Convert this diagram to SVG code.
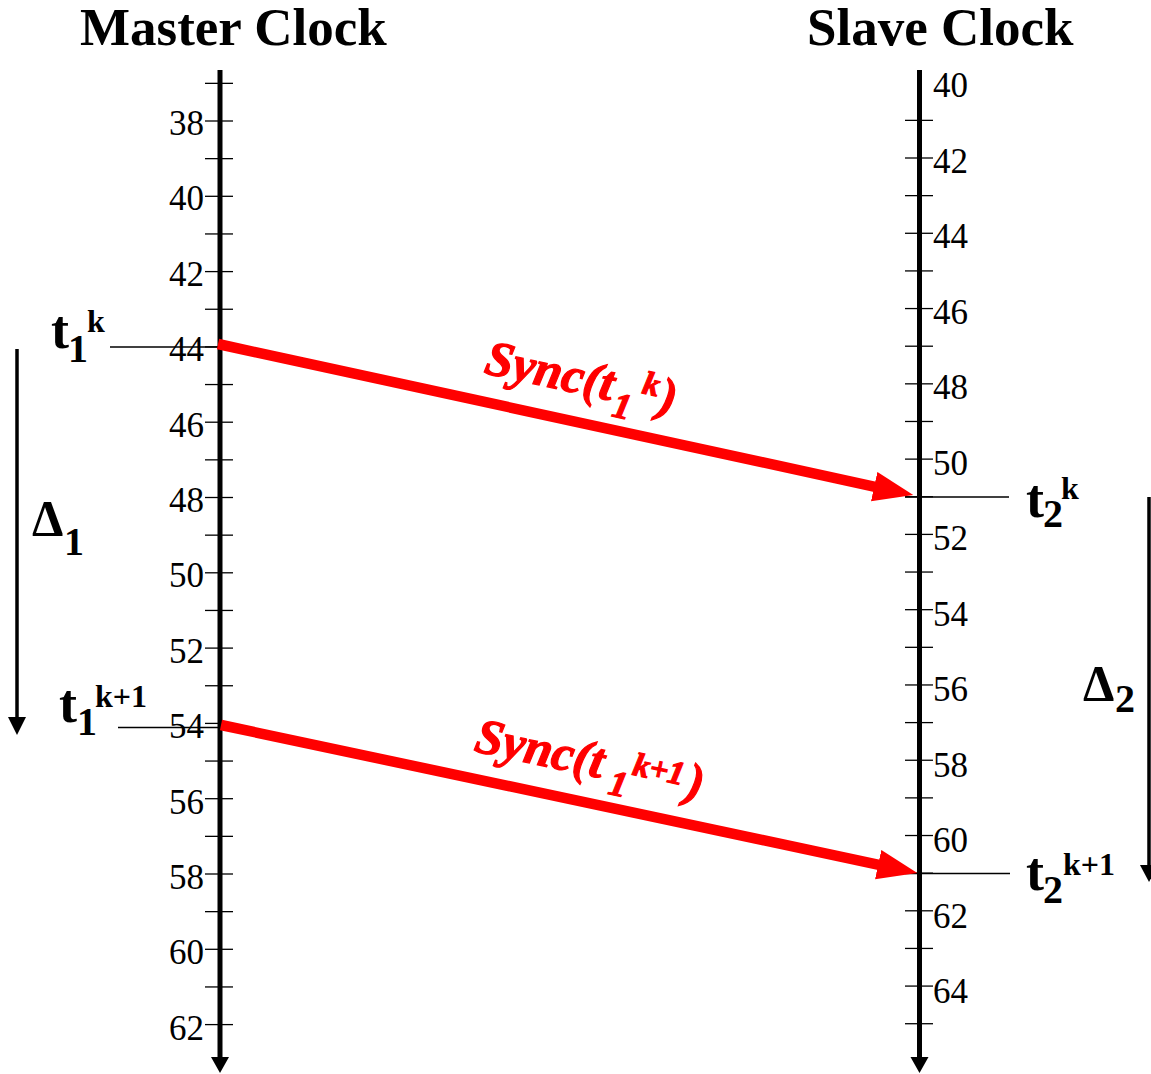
<svg xmlns="http://www.w3.org/2000/svg" width="1151" height="1074" viewBox="0 0 1151 1074">
<style>
.title{font-family:"Liberation Serif","Times New Roman",serif;font-weight:bold;font-size:53px;fill:#000}
.num{font-family:"Liberation Serif","Times New Roman",serif;font-size:35px;fill:#000}
.lbl{font-family:"Liberation Serif","Times New Roman",serif;font-weight:bold;fill:#000}
.sync{font-family:"Liberation Serif","Times New Roman",serif;font-weight:700;font-style:italic;fill:#ff0000;stroke:#ff0000;stroke-width:1.2}
.axis{stroke:#000;stroke-width:5;fill:none}
.tick{stroke:#000;stroke-width:1.3}
.guide{stroke:#000;stroke-width:1.3}
.msg{stroke:#ff0000;stroke-width:10.5;fill:none}
.delta{stroke:#000;stroke-width:3.5;fill:none}
</style>
<defs>
<marker id="redhead" markerUnits="userSpaceOnUse" markerWidth="44" markerHeight="34" refX="8" refY="15" orient="auto">
<path d="M0,0 L40,15 L0,30 Z" fill="#ff0000"/>
</marker>
</defs>
<g id="titles">
<text class="title" x="80" y="45">Master Clock</text>
<text class="title" x="807" y="45">Slave Clock</text>
</g>
<g id="master-axis">
<line class="axis" x1="220" y1="70" x2="220" y2="1060"/>
<polygon points="211,1057 229,1057 220,1073" fill="#000"/>
<g class="tick">
<line x1="205" x2="233" y1="83.35" y2="83.35"/>
<line x1="205" x2="233" y1="121" y2="121"/>
<line x1="205" x2="233" y1="158.65" y2="158.65"/>
<line x1="205" x2="233" y1="196.3" y2="196.3"/>
<line x1="205" x2="233" y1="233.95" y2="233.95"/>
<line x1="205" x2="233" y1="271.6" y2="271.6"/>
<line x1="205" x2="233" y1="309.25" y2="309.25"/>
<line x1="205" x2="233" y1="346.9" y2="346.9"/>
<line x1="205" x2="233" y1="384.55" y2="384.55"/>
<line x1="205" x2="233" y1="422.2" y2="422.2"/>
<line x1="205" x2="233" y1="459.85" y2="459.85"/>
<line x1="205" x2="233" y1="497.5" y2="497.5"/>
<line x1="205" x2="233" y1="535.15" y2="535.15"/>
<line x1="205" x2="233" y1="572.8" y2="572.8"/>
<line x1="205" x2="233" y1="610.45" y2="610.45"/>
<line x1="205" x2="233" y1="648.1" y2="648.1"/>
<line x1="205" x2="233" y1="685.75" y2="685.75"/>
<line x1="205" x2="233" y1="723.4" y2="723.4"/>
<line x1="205" x2="233" y1="761.05" y2="761.05"/>
<line x1="205" x2="233" y1="798.7" y2="798.7"/>
<line x1="205" x2="233" y1="836.35" y2="836.35"/>
<line x1="205" x2="233" y1="874" y2="874"/>
<line x1="205" x2="233" y1="911.65" y2="911.65"/>
<line x1="205" x2="233" y1="949.3" y2="949.3"/>
<line x1="205" x2="233" y1="986.95" y2="986.95"/>
<line x1="205" x2="233" y1="1024.6" y2="1024.6"/>
</g>
<g class="num" text-anchor="end">
<text x="204" y="135">38</text>
<text x="204" y="210.4">40</text>
<text x="204" y="285.8">42</text>
<text x="204" y="361.2">44</text>
<text x="204" y="436.6">46</text>
<text x="204" y="512">48</text>
<text x="204" y="587.4">50</text>
<text x="204" y="662.8">52</text>
<text x="204" y="738.2">54</text>
<text x="204" y="813.6">56</text>
<text x="204" y="889">58</text>
<text x="204" y="964.4">60</text>
<text x="204" y="1039.8">62</text>
</g>
</g>
<g id="slave-axis">
<line class="axis" x1="919.5" y1="70" x2="919.5" y2="1060"/>
<polygon points="910.5,1057 928.5,1057 919.5,1073" fill="#000"/>
<g class="tick">
<line x1="905" x2="933" y1="120.36" y2="120.36"/>
<line x1="905" x2="933" y1="158" y2="158"/>
<line x1="905" x2="933" y1="195.64" y2="195.64"/>
<line x1="905" x2="933" y1="233.28" y2="233.28"/>
<line x1="905" x2="933" y1="270.92" y2="270.92"/>
<line x1="905" x2="933" y1="308.56" y2="308.56"/>
<line x1="905" x2="933" y1="346.2" y2="346.2"/>
<line x1="905" x2="933" y1="383.84" y2="383.84"/>
<line x1="905" x2="933" y1="421.48" y2="421.48"/>
<line x1="905" x2="933" y1="459.12" y2="459.12"/>
<line x1="905" x2="933" y1="496.76" y2="496.76"/>
<line x1="905" x2="933" y1="534.4" y2="534.4"/>
<line x1="905" x2="933" y1="572.04" y2="572.04"/>
<line x1="905" x2="933" y1="609.68" y2="609.68"/>
<line x1="905" x2="933" y1="647.32" y2="647.32"/>
<line x1="905" x2="933" y1="684.96" y2="684.96"/>
<line x1="905" x2="933" y1="722.6" y2="722.6"/>
<line x1="905" x2="933" y1="760.24" y2="760.24"/>
<line x1="905" x2="933" y1="797.88" y2="797.88"/>
<line x1="905" x2="933" y1="835.52" y2="835.52"/>
<line x1="905" x2="933" y1="873.16" y2="873.16"/>
<line x1="905" x2="933" y1="910.8" y2="910.8"/>
<line x1="905" x2="933" y1="948.44" y2="948.44"/>
<line x1="905" x2="933" y1="986.08" y2="986.08"/>
<line x1="905" x2="933" y1="1023.72" y2="1023.72"/>
</g>
<g class="num">
<text x="933" y="97">40</text>
<text x="933" y="172.5">42</text>
<text x="933" y="248">44</text>
<text x="933" y="323.5">46</text>
<text x="933" y="399">48</text>
<text x="933" y="474.5">50</text>
<text x="933" y="550">52</text>
<text x="933" y="625.5">54</text>
<text x="933" y="701">56</text>
<text x="933" y="776.5">58</text>
<text x="933" y="852">60</text>
<text x="933" y="927.5">62</text>
<text x="933" y="1003">64</text>
</g>
</g>
<g id="event-labels">
<g id="t1k">
<line class="guide" x1="110" y1="347" x2="233" y2="347"/>
<text class="lbl"><tspan x="51" y="348" font-size="54">t</tspan><tspan x="68" y="362" font-size="40">1</tspan><tspan x="87" y="332" font-size="32">k</tspan></text>
</g>
<g id="t1k1">
<line class="guide" x1="118" y1="727.5" x2="225" y2="727.5"/>
<text class="lbl"><tspan x="59" y="722" font-size="54">t</tspan><tspan x="77" y="735" font-size="40">1</tspan><tspan x="95" y="707" font-size="32">k+1</tspan></text>
</g>
<g id="t2k">
<line class="guide" x1="905" y1="497" x2="1009" y2="497"/>
<text class="lbl"><tspan x="1026" y="517" font-size="54">t</tspan><tspan x="1043" y="527" font-size="40">2</tspan><tspan x="1061" y="499" font-size="32">k</tspan></text>
</g>
<g id="t2k1">
<line class="guide" x1="905" y1="873.5" x2="1010" y2="873.5"/>
<text class="lbl"><tspan x="1026" y="890" font-size="54">t</tspan><tspan x="1043" y="903" font-size="40">2</tspan><tspan x="1063" y="875" font-size="32">k+1</tspan></text>
</g>
</g>
<g id="delta1">
<line class="delta" x1="17" y1="349" x2="17" y2="720"/>
<polygon points="8,717 26,717 17,735" fill="#000"/>
<text class="lbl"><tspan x="32" y="535" font-size="50">Δ</tspan><tspan x="64" y="555" font-size="40">1</tspan></text>
</g>
<g id="delta2">
<line class="delta" x1="1149" y1="497" x2="1149" y2="868"/>
<polygon points="1140,865 1158,865 1149,882" fill="#000"/>
<text class="lbl"><tspan x="1083" y="700" font-size="50">Δ</tspan><tspan x="1115" y="712" font-size="40">2</tspan></text>
</g>
<g id="connectors">
<line class="msg" x1="218" y1="344" x2="882" y2="488.3" marker-end="url(#redhead)"/>
<line class="msg" x1="221" y1="725" x2="886" y2="866.3" marker-end="url(#redhead)"/>
<text class="sync" transform="translate(483,373) rotate(12.2)"><tspan x="0" y="0" font-size="50">Sync(t</tspan><tspan x="134" y="15" font-size="36">1</tspan><tspan x="159" y="-14" font-size="33">k</tspan><tspan x="178" y="0" font-size="50">)</tspan></text>
<text class="sync" transform="translate(473,751) rotate(12)"><tspan x="0" y="0" font-size="50">Sync(t</tspan><tspan x="140" y="14" font-size="36">1</tspan><tspan x="160" y="-10" font-size="33">k+1</tspan><tspan x="216" y="0" font-size="50">)</tspan></text>
</g>
</svg>
